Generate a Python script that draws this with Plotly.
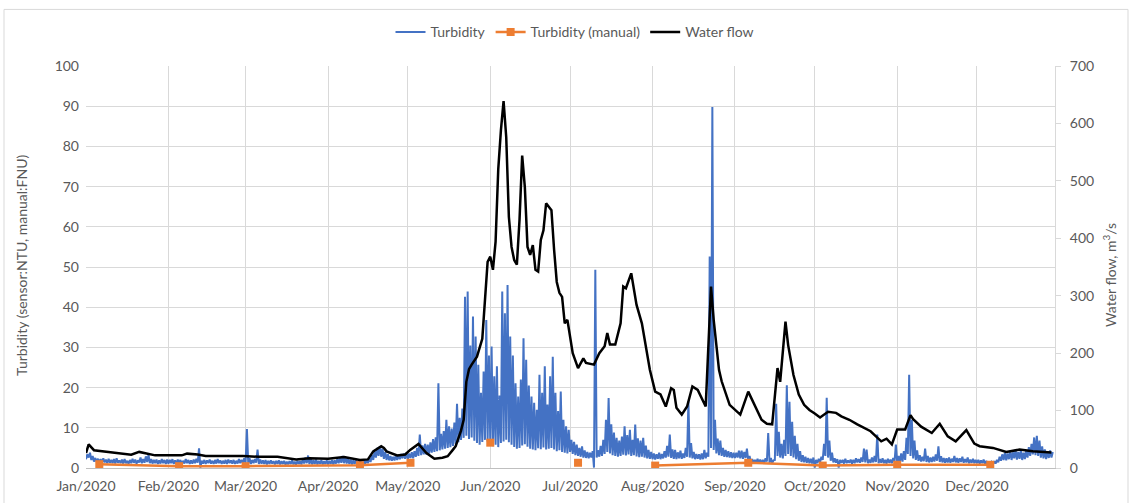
import pandas as pd
import plotly.graph_objects as go

# Sensor turbidity (NTU), one reading every 12 h per month: trough, peak, trough, peak ...
turb_jan = [2.2, 3.4, 2.6, 3.8, 2.0, 3.0, 1.6, 2.5, 1.5, 2.3, 1.4, 2.2, 1.3, 2.4, 1.4, 2.1,
            1.2, 2.3, 1.3, 2.0, 1.2, 2.2, 1.1, 2.4, 1.3, 1.9, 1.2, 2.1, 1.1, 2.2, 1.2, 1.8,
            1.0, 2.0, 1.2, 2.3, 1.3, 2.1, 1.1, 1.9, 1.4, 2.6, 1.2, 2.2, 1.3, 2.9, 1.5, 3.3,
            1.2, 2.2, 1.1, 2.0, 1.2, 2.1, 1.0, 1.9, 1.1, 2.2, 1.2, 2.0, 1.0, 2.1]
turb_feb = [1.1, 2.0, 1.2, 2.2, 1.0, 1.9, 1.1, 2.1, 1.2, 2.0, 1.0, 1.8, 1.1, 2.2, 1.2, 2.0,
            1.0, 1.9, 1.1, 2.1, 1.2, 2.3, 1.3, 4.9, 0.1, 1.8, 1.1, 2.0, 1.0, 1.9, 1.2, 2.1,
            1.1, 1.8, 1.0, 2.0, 1.1, 2.2, 1.2, 1.9, 1.0, 1.8, 1.1, 2.0, 1.0, 2.1, 1.2, 1.9,
            1.1, 2.0, 1.0, 1.8, 1.1, 2.2, 1.2, 2.0, 1.3, 2.4]
turb_mar = [1.2, 9.7, 1.1, 2.4, 1.0, 2.0, 1.2, 2.2, 1.3, 4.6, 1.0, 2.1, 1.1, 1.9, 1.0, 2.0,
            0.9, 1.8, 1.0, 1.9, 1.1, 1.7, 0.9, 1.8, 1.0, 1.9, 0.9, 1.7, 1.0, 1.8, 0.8, 1.6,
            0.9, 1.7, 1.0, 1.9, 0.9, 1.6, 0.8, 1.8, 1.0, 1.7, 0.9, 2.2, 1.1, 2.6, 1.2, 3.1,
            1.0, 2.4, 0.9, 1.9, 1.0, 2.1, 0.9, 1.8, 1.0, 2.0, 0.9, 1.7, 1.0, 1.9]
turb_apr = [0.9, 1.8, 1.0, 2.0, 0.9, 1.9, 1.1, 2.2, 1.2, 2.6, 1.3, 3.0, 1.2, 2.8, 1.1, 2.4,
            1.0, 2.1, 0.9, 1.9, 1.0, 2.0, 0.9, 1.8, 1.0, 1.9, 1.1, 2.0, 1.0, 2.1, 1.2, 2.4,
            1.5, 3.2, 2.0, 4.1, 2.6, 5.0, 3.0, 5.4, 2.8, 4.8, 2.3, 4.0, 2.0, 3.4, 1.9, 3.0,
            1.8, 2.8, 1.9, 3.1, 2.0, 3.3, 2.2, 3.5, 2.4, 3.6, 2.3, 3.8]
turb_may = [2.2, 3.6, 2.5, 3.9, 2.4, 4.2, 2.8, 5.0, 3.0, 8.3, 3.2, 5.6, 3.4, 6.0, 3.3, 5.8,
            3.6, 6.4, 3.8, 7.2, 4.0, 7.6, 4.2, 21.1, 4.4, 8.5, 4.6, 9.2, 4.8, 12.0, 5.0, 10.4,
            5.2, 9.8, 5.5, 11.3, 6.0, 16.0, 6.4, 12.5, 7.0, 14.8, 7.5, 42.6, 8.0, 43.9, 7.2, 30.5,
            7.6, 37.7, 6.8, 32.7, 6.2, 25.7, 5.8, 18.7, 6.5, 24.0, 7.0, 36.8, 6.6, 28.0]
turb_jun = [6.0, 30.2, 5.4, 22.8, 5.8, 25.3, 5.2, 18.0, 6.2, 43.9, 6.6, 38.5, 7.0, 45.5, 6.4, 32.7,
            5.8, 28.0, 5.2, 21.1, 4.8, 17.8, 5.0, 22.0, 5.6, 32.3, 5.9, 26.9, 5.3, 20.5, 4.8, 17.8,
            4.6, 16.2, 4.4, 14.5, 4.9, 23.2, 4.7, 18.7, 5.1, 25.3, 4.6, 15.8, 4.8, 22.8, 5.0, 27.7,
            4.6, 18.7, 4.2, 14.2, 4.4, 19.0, 4.0, 12.0, 3.8, 10.4, 3.6, 9.5]
turb_jul = [4.0, 7.0, 3.5, 6.5, 3.2, 5.8, 3.0, 5.0, 2.8, 5.4, 2.6, 4.4, 2.5, 4.0, 2.4, 3.8,
            2.6, 4.2, 0.1, 49.3, 2.6, 4.4, 2.8, 5.5, 3.0, 7.0, 3.5, 12.0, 4.0, 17.4, 3.6, 10.9,
            3.2, 8.8, 3.0, 7.5, 2.8, 6.8, 3.0, 7.8, 3.3, 10.4, 3.1, 8.2, 3.4, 9.5, 3.0, 7.0,
            3.2, 10.8, 2.9, 7.4, 2.7, 6.8, 2.8, 7.5, 2.6, 5.6, 2.4, 4.5, 2.3, 4.0]
turb_aug = [2.2, 3.6, 2.1, 3.4, 2.3, 3.8, 2.2, 3.5, 2.4, 4.2, 2.6, 5.5, 2.8, 8.3, 2.5, 4.6,
            2.3, 4.5, 2.2, 3.9, 2.4, 4.3, 2.3, 3.6, 2.5, 5.0, 2.8, 16.6, 2.6, 6.2, 2.4, 4.0,
            2.2, 3.5, 2.3, 3.4, 2.1, 3.6, 2.2, 4.5, 2.4, 3.8, 2.8, 52.6, 5.0, 89.8, 4.5, 12.0,
            3.6, 7.3, 3.2, 6.8, 3.0, 5.0, 2.8, 4.5, 2.7, 4.2, 2.6, 3.9, 2.5, 3.8]
turb_sep = [2.5, 3.8, 2.6, 4.3, 2.4, 4.3, 2.3, 4.0, 2.5, 4.8, 1.8, 3.0, 1.3, 2.2, 1.2, 2.0,
            1.3, 2.3, 1.2, 2.1, 1.1, 2.0, 1.3, 2.4, 1.6, 8.7, 1.3, 2.5, 1.2, 1.9, 2.0, 16.0,
            3.0, 9.0, 2.6, 6.0, 2.4, 7.0, 3.0, 20.6, 3.5, 16.5, 3.0, 11.5, 2.6, 8.0, 2.2, 6.0,
            1.8, 4.2, 1.5, 3.2, 1.4, 2.8, 1.3, 2.5, 1.2, 2.3, 1.1, 2.6]
turb_oct = [0.1, 2.0, 1.2, 2.3, 1.4, 2.8, 2.0, 6.0, 3.0, 17.5, 2.6, 6.8, 1.8, 3.8, 1.4, 2.4,
            1.3, 2.2, 0.1, 2.0, 1.3, 2.0, 1.1, 2.3, 1.2, 1.9, 1.3, 2.1, 1.1, 2.0, 1.2, 2.4,
            1.4, 2.2, 1.3, 2.6, 1.5, 4.8, 1.4, 4.6, 1.2, 2.1, 1.3, 2.6, 1.4, 3.0, 1.5, 8.3,
            1.2, 2.2, 1.3, 2.4, 1.2, 2.0, 1.1, 2.3, 1.3, 2.1, 1.2, 2.5, 1.6, 5.8]
turb_nov = [1.4, 3.0, 1.5, 3.6, 1.6, 4.2, 2.0, 7.5, 3.5, 23.2, 3.0, 12.0, 2.4, 6.8, 2.0, 4.4,
            1.8, 3.2, 1.6, 2.8, 1.7, 4.8, 1.5, 3.0, 1.4, 2.6, 1.5, 2.8, 1.6, 3.4, 1.8, 5.4,
            1.5, 2.9, 1.4, 2.5, 1.3, 2.4, 1.4, 2.6, 1.3, 2.3, 1.5, 3.0, 1.4, 2.5, 1.3, 2.4,
            1.5, 2.8, 1.3, 2.2, 1.4, 2.6, 1.2, 2.1, 1.3, 2.3, 1.2, 2.0]
turb_dec = [1.2, 2.0, 1.1, 1.9, 1.2, 2.1, 1.0, 1.8, 0.9, 1.6, 1.0, 1.5, 0.9, 1.7, 1.1, 2.0,
            1.4, 2.8, 1.8, 3.4, 2.0, 3.8, 1.9, 3.6, 2.2, 4.2, 2.0, 3.9, 2.4, 4.6, 2.1, 4.0,
            2.3, 4.4, 2.0, 3.8, 2.2, 4.5, 2.6, 5.2, 3.0, 6.0, 3.4, 7.6, 3.2, 8.0, 3.0, 6.8,
            2.6, 5.4, 2.4, 4.6, 2.2, 4.2, 2.5, 4.4, 2.6, 4.0]

turb_months = [
    ("2020-01-01", turb_jan), ("2020-02-01", turb_feb), ("2020-03-01", turb_mar),
    ("2020-04-01", turb_apr), ("2020-05-01", turb_may), ("2020-06-01", turb_jun),
    ("2020-07-01", turb_jul), ("2020-08-01", turb_aug), ("2020-09-01", turb_sep),
    ("2020-10-01", turb_oct), ("2020-11-01", turb_nov), ("2020-12-01", turb_dec),
]

# Manual turbidity samples (FNU); None marks breaks in the series
manual_dates = ["2020-01-06", "2020-02-05", "2020-03-01", "2020-04-13", "2020-05-02",
                "2020-05-17", "2020-06-01", "2020-06-18", "2020-07-04", "2020-07-18",
                "2020-08-02", "2020-09-06", "2020-10-04", "2020-11-01", "2020-12-06"]
manual_values = [0.95, 0.45, 0.45, 0.7, 1.3,
                 None, 6.3, None, 1.3, None,
                 0.6, 1.3, 0.6, 0.8, 0.8]

# Water flow (m3/s)
flow_dates = [
    "2020-01-01", "2020-01-02", "2020-01-04", "2020-01-09", "2020-01-14", "2020-01-18",
    "2020-01-21", "2020-01-24", "2020-01-27", "2020-02-06", "2020-02-08", "2020-02-12",
    "2020-02-15", "2020-02-23", "2020-02-29", "2020-03-06", "2020-03-13", "2020-03-20",
    "2020-03-25", "2020-04-01", "2020-04-07", "2020-04-13", "2020-04-16", "2020-04-18",
    "2020-04-21", "2020-04-22", "2020-04-23", "2020-04-27", "2020-04-30", "2020-05-02",
    "2020-05-05", "2020-05-08", "2020-05-11", "2020-05-14", "2020-05-16", "2020-05-18",
    "2020-05-19", "2020-05-21", "2020-05-22", "2020-05-23", "2020-05-24", "2020-05-25",
    "2020-05-27", "2020-05-29", "2020-05-30", "2020-05-31", "2020-06-01", "2020-06-02",
    "2020-06-03", "2020-06-04", "2020-06-05", "2020-06-06", "2020-06-07", "2020-06-08",
    "2020-06-09", "2020-06-10", "2020-06-11", "2020-06-12", "2020-06-13", "2020-06-14",
    "2020-06-15", "2020-06-16", "2020-06-17", "2020-06-18", "2020-06-19", "2020-06-20",
    "2020-06-21", "2020-06-22", "2020-06-23", "2020-06-24", "2020-06-25", "2020-06-26",
    "2020-06-27", "2020-06-28", "2020-06-29", "2020-06-30", "2020-07-02", "2020-07-04",
    "2020-07-06", "2020-07-07", "2020-07-10", "2020-07-12", "2020-07-14", "2020-07-15",
    "2020-07-16", "2020-07-18", "2020-07-20", "2020-07-21", "2020-07-22", "2020-07-24",
    "2020-07-26", "2020-07-28", "2020-07-31", "2020-08-02", "2020-08-04", "2020-08-06",
    "2020-08-08", "2020-08-09", "2020-08-10", "2020-08-12", "2020-08-14", "2020-08-16",
    "2020-08-18", "2020-08-21", "2020-08-23", "2020-08-24", "2020-08-26", "2020-08-27",
    "2020-08-30", "2020-09-01", "2020-09-03", "2020-09-06", "2020-09-09", "2020-09-11",
    "2020-09-13", "2020-09-15", "2020-09-17", "2020-09-18", "2020-09-20", "2020-09-21",
    "2020-09-23", "2020-09-25", "2020-09-27", "2020-09-29", "2020-10-01", "2020-10-03",
    "2020-10-06", "2020-10-09", "2020-10-11", "2020-10-14", "2020-10-17", "2020-10-22",
    "2020-10-26", "2020-10-28", "2020-10-30", "2020-11-01", "2020-11-04", "2020-11-06",
    "2020-11-07", "2020-11-10", "2020-11-14", "2020-11-17", "2020-11-20", "2020-11-23",
    "2020-11-27", "2020-11-30", "2020-12-02", "2020-12-07", "2020-12-12", "2020-12-17",
    "2020-12-22", "2020-12-29",
]
flow_values = [
    26, 41, 31, 28, 26, 23,
    28, 25, 22, 22, 25, 23.5,
    21, 21, 21, 19.5, 19.5, 15,
    17, 16, 19, 14, 15, 29,
    38, 35, 29, 22, 23.5, 32,
    42, 26, 16, 18, 20.5, 32,
    38, 65, 84, 150, 172, 180,
    194, 225, 300, 359, 368, 345,
    394, 520, 588, 639, 576, 437,
    385, 362, 354, 432, 544, 489,
    385, 371, 388, 345, 342, 397,
    414, 461, 455, 449, 380, 324,
    305, 298, 252, 258, 200, 174,
    191, 183, 180, 200, 212, 235,
    215, 215, 252, 316, 313, 339,
    284, 252, 171, 133, 128, 107,
    139, 136, 105, 93, 107, 142,
    136, 107, 316, 258, 171, 151,
    110, 102, 93, 133, 103, 84,
    77, 76, 174, 150, 255, 214,
    162, 128, 110, 101, 95, 88,
    98, 96, 90, 84, 76, 64,
    46.5, 51, 41, 67, 67, 92,
    85, 72, 61, 77, 55, 46.5,
    66, 42.5, 38, 35, 28, 32,
    29, 27,
]

# Axis tick values
left_ticks = [0, 10, 20, 30, 40, 50, 60, 70, 80, 90, 100]
right_ticks = [0, 100, 200, 300, 400, 500, 600, 700]

BLUE = "#4472C4"
ORANGE = "#ED7D31"
GRID = "#D9D9D9"
TEXT = "#595959"
FONT = "Lato, 'Liberation Sans', sans-serif"
FS = 14

turb_x, turb_y = [], []
for start, vals in turb_months:
    turb_x.extend(pd.date_range(start, periods=len(vals), freq="12h"))
    turb_y.extend(vals)

fig = go.Figure()

fig.add_trace(go.Scatter(
    x=turb_x, y=turb_y, mode="lines", name="Turbidity",
    line=dict(color=BLUE, width=2), legendrank=1,
))
fig.add_trace(go.Scatter(
    x=pd.to_datetime(manual_dates), y=manual_values, mode="lines+markers",
    name="Turbidity (manual)", connectgaps=False,
    line=dict(color=ORANGE, width=2.5),
    marker=dict(symbol="square", size=8, color=ORANGE), legendrank=2,
))
fig.add_trace(go.Scatter(
    x=pd.to_datetime(flow_dates), y=flow_values, mode="lines", name="Water flow",
    line=dict(color="black", width=2.5), yaxis="y2", legendrank=3,
))

# plot area in pixels: x 86..1055, y 65.7..468.5
L, R, T, B = 86, 1055, 65.7, 468.5
W, H = R - L, B - T


def px(x):
    return (x - L) / W


def py(y):
    return (B - y) / H


fig.update_layout(
    width=1132, height=503,
    margin=dict(l=L, r=1132 - R, t=T, b=503 - B, autoexpand=False),
    paper_bgcolor="white", plot_bgcolor="white",
    font=dict(family=FONT, size=FS, color=TEXT),
    showlegend=True,
    legend=dict(
        orientation="h", x=px(575), y=py(32), xanchor="center", yanchor="middle",
        font=dict(family=FONT, size=FS, color=TEXT), bgcolor="rgba(0,0,0,0)",
        itemwidth=30, tracegroupgap=0,
    ),
    xaxis=dict(
        type="date", range=["2020-01-01", "2020-12-30 08:00"],
        tick0="2020-01-01", dtick="M1", tickformat="%b/%Y",
        showgrid=True, gridcolor=GRID, gridwidth=1,
        showline=True, linecolor="#BFBFBF", linewidth=1,
        ticks="", ticklabelstandoff=5, zeroline=False, automargin=False,
        tickfont=dict(family=FONT, size=FS, color=TEXT),
    ),
    yaxis=dict(
        range=[0, 100], tickvals=left_ticks,
        showgrid=True, gridcolor=GRID, gridwidth=1, zeroline=False,
        showline=False, ticks="", ticklabelstandoff=6, automargin=False,
        tickfont=dict(family=FONT, size=FS, color=TEXT),
    ),
    yaxis2=dict(
        range=[0, 700], tickvals=right_ticks, overlaying="y", side="right",
        showgrid=False, zeroline=False, automargin=False,
        showline=True, linecolor=GRID, linewidth=1,
        ticks="outside", ticklen=5, tickcolor=GRID, ticklabelstandoff=6,
        tickfont=dict(family=FONT, size=FS, color=TEXT),
    ),
    annotations=[
        dict(text="Turbidity (sensor:NTU, manual:FNU)", textangle=-90,
             xref="paper", yref="paper", x=px(22), y=py(266),
             xanchor="center", yanchor="middle", showarrow=False,
             font=dict(family=FONT, size=FS, color=TEXT)),
        dict(text="Water flow, m<sup>3</sup>/s", textangle=-90,
             xref="paper", yref="paper", x=px(1110), y=py(275),
             xanchor="center", yanchor="middle", showarrow=False,
             font=dict(family=FONT, size=FS, color=TEXT)),
    ],
    shapes=[
        dict(type="rect", xref="paper", yref="paper",
             x0=px(4), x1=px(1128), y0=py(520), y1=py(9),
             line=dict(color=GRID, width=1), fillcolor="rgba(0,0,0,0)", layer="below"),
    ],
)

fig.write_html("out.html")
